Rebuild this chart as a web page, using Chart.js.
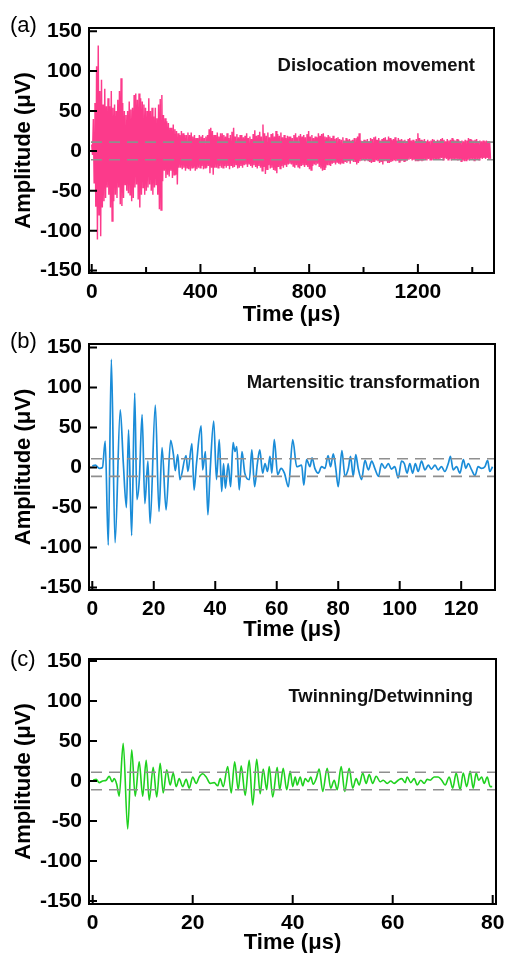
<!DOCTYPE html>
<html><head><meta charset="utf-8">
<script src="https://cdn.jsdelivr.net/npm/chart.js@4"></script>
<style>
html,body{margin:0;padding:0;background:#fff;overflow:hidden;width:505px;height:953px}
canvas{position:absolute;left:0}
</style></head>
<body>
<canvas id="ca" width="505" height="330" style="top:0px"></canvas>
<canvas id="cb" width="505" height="325" style="top:318px"></canvas>
<canvas id="cc" width="505" height="318" style="top:635px"></canvas>
<script>
// ---------- data ----------
// (a) Dislocation movement: envelope maxima / minima read every stepA µs
const stepA = 6;
const ampTopA = [
 8,40,60,106,132,75,89,58,78,56,
 66,56,75,54,58,50,64,75,91,60,
 50,45,50,62,52,54,70,72,64,72,
 66,62,58,54,50,66,50,54,43,54,
 41,58,65,70,45,41,37,35,29,29,
 33,27,25,22,20,25,22,20,20,23,
 20,23,18,20,16,16,20,18,20,16,
 18,20,27,29,25,20,20,23,18,22,
 22,20,
 18,22,16,20,24,29,18,21,17,20,
 20,17,19,22,16,18,15,21,26,19,
 20,24,18,33,22,19,23,17,21,22,
 18,25,21,19,23,17,20,16,19,18,
 18,16,20,22,17,19,21,18,20,17,
 21,25,18,20,16,18,17,22,19,21,
 22,18,17,20,18,16,19,15,16,17,
 15,14,17,13,16,14,15,13,14,16,
 16,18,22,13,12,14,13,15,12,16,
 15,17,18,14,16,13,15,16,17,14,
 18,16,14,15,17,13,16,14,15,13,
 14,12,15,16,13,14,12,15,22,16,
 14,13,15,12,14,12,13,15,14,12,
 14,13,15,16,14,12,15,13,14,16,
 14,13,15,14,12,13,12,14,13,16,
 15,14,13,14,15,12,13,12,13,12,
 13,12,12];
const ampBotA = [
 -5,-40,-70,-111,-80,-107,-71,-63,-59,-46,
 -55,-71,-88,-63,-55,-59,-46,-67,-69,-59,
 -42,-50,-53,-55,-63,-59,-46,-42,-61,-71,
 -55,-46,-55,-50,-46,-42,-50,-55,-46,-42,
 -55,-73,-74,-38,-25,-34,-30,-32,-25,-34,
 -30,-30,-42,-21,-21,-23,-21,-25,-21,-23,
 -25,-21,-21,-25,-23,-21,-21,-19,-23,-21,
 -21,-19,-28,-21,-30,-21,-21,-21,-19,-21,
 -21,-19,
 -21,-19,-23,-18,-21,-20,-17,-22,-21,-19,
 -21,-18,-17,-20,-16,-19,-21,-18,-20,-22,
 -19,-21,-25,-20,-29,-23,-18,-22,-21,-24,
 -25,-28,-20,-22,-19,-21,-18,-20,-17,-16,
 -17,-19,-21,-18,-20,-22,-19,-18,-20,-17,
 -20,-23,-24,-19,-17,-18,-16,-20,-22,-25,
 -23,-21,-18,-17,-19,-16,-15,-17,-14,-16,
 -17,-15,-16,-14,-15,-13,-16,-12,-14,-13,
 -17,-15,-13,-12,-11,-13,-11,-12,-14,-15,
 -13,-14,-12,-13,-15,-14,-17,-13,-12,-15,
 -15,-14,-13,-12,-13,-12,-14,-13,-12,-13,
 -13,-12,-11,-10,-12,-11,-13,-12,-13,-12,
 -13,-12,-11,-12,-10,-11,-12,-11,-10,-11,
 -11,-10,-9,-11,-9,-10,-11,-10,-12,-11,
 -11,-10,-12,-11,-13,-12,-13,-12,-11,-12,
 -11,-10,-12,-11,-10,-11,-9,-10,-9,-10,
 -9,-10,-10];

// (b) Martensitic transformation
const timeB = [0,1,2.3,3.3,4.2,5.2,6.2,7.4,9.1,10.1,
 11.1,11.8,12.8,13.8,14.5,15.3,16.2,17.1,18.1,18.8,
 20.5,21.7,22.7,24.0,25.5,26.4,27.0,27.8,28.5,30.5,
 31.1,32.4,33.1,33.9,35.4,35.9,36.8,37.6,38.3,39.5,
 40.4,41.3,42.1,42.7,43.3,44.2,45.0,45.8,46.4,47.0,
 47.8,48.7,49.6,51.1,51.9,52.8,53.7,54.5,55.4,56.2,
 57.0,57.8,58.4,59.2,60.3,61.4,62.5,63.8,65.2,66.5,
 68.1,68.8,69.7,70.8,71.5,72.4,73.5,74.6,75.7,76.7,
 77.5,78.4,79.2,80.0,81.2,82.2,83.3,84.0,84.9,85.7,
 86.5,87.6,88.7,89.8,90.9,91.9,93.1,94.1,95.2,96.3,
 97.3,98.4,99.5,100.6,101.5,102.4,103.3,104.2,105.1,106.0,
 107.1,108.2,109.3,110.3,111.5,112.5,113.6,114.7,115.8,116.5,
 117.4,118.5,119.6,120.7,121.5,122.3,123.4,124.5,125.5,126.6,
 127.7,128.6,129.3,130.2];
const ampB = [2,3,-1,0,33,-97,135,-94,72,5,
 -50,47,-85,93,-40,-15,66,-45,8,-70,
 78,-55,25,-53,34,16,-4,16,-15,15,
 -5,30,-28,5,52,-3,20,-59,-7,58,
 -15,35,-30,5,-26,5,-24,31,20,26,
 -28,20,-7,-15,22,-24,5,22,-7,5,
 -5,14,-7,35,-9,-1,-7,-24,35,1,
 3,-22,10,1,12,-1,-7,1,-1,15,
 1,17,-1,-24,21,-11,-1,14,-11,16,
 -1,-15,9,-3,8,-1,-11,5,-1,5,
 -2,1,-13,8,5,-7,5,-7,5,-5,
 8,-3,3,-2,3,-3,1,-5,5,14,
 -3,1,-7,10,-1,5,-3,-10,1,-1,
 1,9,-5,1];

// (c) Twinning/Detwinning
const timeC = [0.1,0.7,1.3,2.0,2.7,3.3,3.9,4.3,4.8,5.3,
 6.1,7.0,7.8,8.5,9.3,10.0,10.7,11.3,12.1,12.8,
 13.5,14.1,14.8,15.5,16.1,16.7,17.3,18.0,18.7,19.3,
 20.0,20.7,21.3,22.0,22.7,23.5,24.3,25.0,25.5,26.1,
 27.0,27.7,28.4,29.1,29.7,30.5,31.3,32.0,32.8,33.5,
 34.1,34.8,35.3,36.0,36.9,37.4,38.1,38.8,39.5,40.0,
 40.5,40.9,41.5,42.0,42.5,43.1,43.6,44.1,44.7,45.3,
 46.0,46.9,47.6,48.3,48.9,49.7,50.4,51.3,52.0,52.7,
 53.3,54.0,54.7,55.3,56.0,56.7,57.5,58.1,58.9,59.6,
 60.3,61.1,61.8,62.5,62.9,63.6,64.3,64.9,65.6,66.3,
 66.9,67.5,68.3,69.1,69.8,70.5,71.3,72.0,72.7,73.5,
 74.1,74.8,75.5,76.1,76.7,77.2,77.8,78.3,78.9,79.5,
 79.9];
const ampC = [1,2,-2,0,1,6,-1,3,-4,-19,
 47,-60,39,-19,24,-19,26,-24,17,-20,
 22,-15,14,-5,10,-7,3,-7,2,-9,
 5,-3,5,9,5,-3,-2,-6,3,-7,
 18,-15,24,-11,19,-18,26,-30,27,-16,
 15,-11,18,-20,17,-11,16,-11,12,-7,
 5,-5,5,-6,3,-1,5,-4,3,15,
 -13,16,-9,1,-11,18,-13,16,-9,3,
 -5,10,-3,8,-3,6,-1,1,-3,0,
 -3,1,3,-2,5,-2,3,-5,1,-3,
 2,1,5,5,1,-5,5,-9,10,-11,
 10,-7,12,-9,10,1,5,-3,5,-7,
 -7];

// axes / ticks
const yTicks = [-150,-100,-50,0,50,100,150];
const thresholdLevels = [11,-11];
const xTicksA = [0,400,800,1200];
const xMinorA = [200,600,1000,1400];
const xTicksB = [0,20,40,60,80,100,120];
const xTicksC = [0,20,40,60,80];
const xRangeA = [-10,1480], xRangeB = [-1.07,131], xRangeC = [-0.74,80.66];
const yRangeA = [-153,154], yRangeB = [-153,154.3], yRangeC = [-153.75,152.5];
const xTitle = 'Time (μs)', yTitle = 'Amplitude (μV)';

// ---------- drawing ----------
const FAM = '"Liberation Sans", Arial, sans-serif';
const tickFont = {family: FAM, size: 21, weight: 'bold', lineHeight: 1.2};
const titleFont = {family: FAM, size: 22, weight: 'bold', lineHeight: 1.2};

const ptsA = [];
ampTopA.forEach((v, i) => {
  ptsA.push({x: i * stepA, y: v});
  ptsA.push({x: i * stepA + stepA / 2, y: ampBotA[i]});
});
const ptsB = timeB.map((t, i) => ({x: t, y: ampB[i]}));
const ptsC = timeC.map((t, i) => ({x: t, y: ampC[i]}));

const decor = {
  id: 'decor',
  afterDatasetsDraw(chart, args, o) {
    const {ctx, chartArea: a} = chart;
    const xs = chart.scales.x, ys = chart.scales.y;
    ctx.save();
    ctx.beginPath(); ctx.rect(a.left, a.top, a.width, a.height); ctx.clip();
    ctx.strokeStyle = '#8f8f8f'; ctx.lineWidth = 1.6; ctx.setLineDash([11, 7]);
    thresholdLevels.forEach(v => {
      const p = ys.getPixelForValue(v);
      ctx.beginPath(); ctx.moveTo(a.left + 2, p); ctx.lineTo(a.right, p); ctx.stroke();
    });
    ctx.restore();
    ctx.save();
    ctx.strokeStyle = '#000'; ctx.lineWidth = 2;
    ctx.strokeRect(a.left, a.top, a.width, a.height);
    ctx.beginPath();
    yTicks.forEach(v => { const p = ys.getPixelForValue(v); ctx.moveTo(a.left, p); ctx.lineTo(a.left + 8, p); });
    o.xTicks.forEach(v => { const p = xs.getPixelForValue(v); ctx.moveTo(p, a.bottom); ctx.lineTo(p, a.bottom - 9); });
    (o.xMinor || []).forEach(v => { const p = xs.getPixelForValue(v); ctx.moveTo(p, a.bottom); ctx.lineTo(p, a.bottom - 6); });
    ctx.stroke();
    ctx.fillStyle = '#111';
    ctx.font = 'bold 18.5px ' + FAM;
    ctx.textAlign = 'right'; ctx.textBaseline = 'alphabetic';
    ctx.fillText(o.note, o.noteX, o.noteY);
    ctx.fillStyle = '#000';
    ctx.font = '22px ' + FAM;
    ctx.textAlign = 'left';
    ctx.fillText(o.label, 10, o.labelY);
    ctx.restore();
  }
};

function zeroPad(s) { s.paddingLeft = 0; s.paddingRight = 0; s.paddingTop = 0; s.paddingBottom = 0; }

function makeChart(id, p) {
  return new Chart(document.getElementById(id), {
    type: 'line',
    data: {datasets: [{data: p.pts, borderColor: p.color, borderWidth: p.lw, pointRadius: 0,
      tension: 0, cubicInterpolationMode: p.interp, fill: false}]},
    options: {
      responsive: false, animation: false, devicePixelRatio: 1,
      layout: {padding: {left: 0, right: p.padRight, top: p.padTop, bottom: 0}},
      plugins: {legend: {display: false}, tooltip: {enabled: false},
        decor: {xTicks: p.xTicks, xMinor: p.xMinor, note: p.note, noteX: p.noteX, noteY: p.noteY, label: p.label, labelY: p.labelY}},
      scales: {
        x: {type: 'linear', min: p.xRange[0], max: p.xRange[1],
          afterBuildTicks: s => { s.ticks = p.xTicks.map(v => ({value: v})); },
          afterFit: s => { s.height = p.xh; zeroPad(s); },
          grid: {display: false, drawTicks: false}, border: {display: false},
          ticks: {padding: 7, font: tickFont, color: '#000', maxRotation: 0, autoSkip: false, callback: v => String(v)},
          title: {display: true, text: xTitle, font: titleFont, color: '#000', padding: {top: 0, bottom: p.xtPad}}},
        y: {type: 'linear', min: p.yRange[0], max: p.yRange[1],
          afterBuildTicks: s => { s.ticks = yTicks.map(v => ({value: v})); },
          afterFit: s => { s.width = 89; zeroPad(s); },
          grid: {display: false, drawTicks: false}, border: {display: false},
          ticks: {padding: 7, font: tickFont, color: '#000', autoSkip: false, callback: v => String(v)},
          title: {display: true, text: yTitle, font: titleFont, color: '#000', padding: {top: 11, bottom: 0}}}
      }
    },
    plugins: [decor]
  });
}

makeChart('ca', {pts: ptsA, color: '#fc3a8b', lw: 1.45, interp: 'default', padRight: 11, padTop: 28, xh: 57, xtPad: 2,
  xRange: xRangeA, yRange: yRangeA, xTicks: xTicksA, xMinor: xMinorA,
  note: 'Dislocation movement', noteX: 475, noteY: 71, label: '(a)', labelY: 31.5});
makeChart('cb', {pts: ptsB, color: '#1a8cd8', lw: 1.7, interp: 'monotone', padRight: 10, padTop: 26, xh: 53, xtPad: 0,
  xRange: xRangeB, yRange: yRangeB, xTicks: xTicksB,
  note: 'Martensitic transformation', noteX: 480, noteY: 69.7, label: '(b)', labelY: 30.3});
makeChart('cc', {pts: ptsC, color: '#1fd11f', lw: 1.6, interp: 'monotone', padRight: 9, padTop: 24, xh: 49, xtPad: -3,
  xRange: xRangeC, yRange: yRangeC, xTicks: xTicksC,
  note: 'Twinning/Detwinning', noteX: 473, noteY: 66.7, label: '(c)', labelY: 31});
</script>
</body></html>
